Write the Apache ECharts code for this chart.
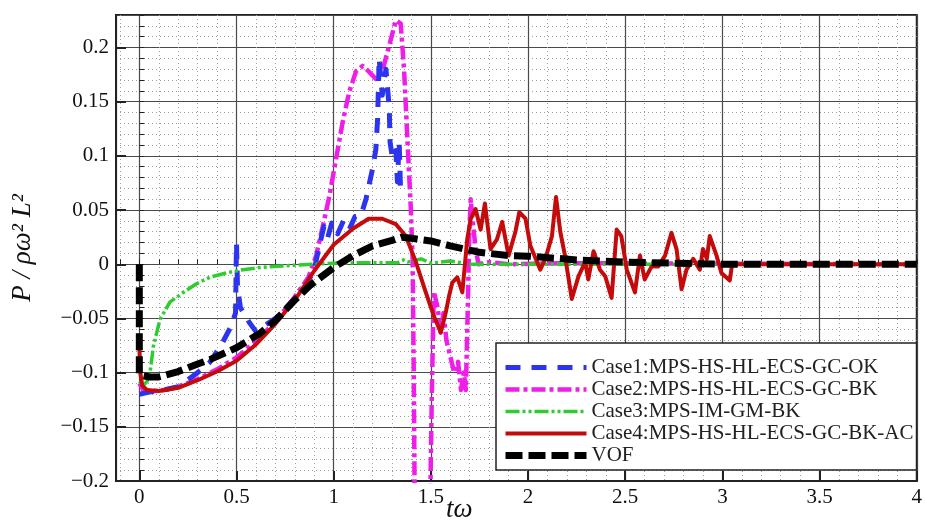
<!DOCTYPE html>
<html>
<head>
<meta charset="utf-8">
<script src="https://cdn.jsdelivr.net/npm/echarts@6/dist/echarts.min.js"></script>
<style>
html,body{margin:0;padding:0;background:#fff;}
#chart{width:925px;height:525px;}
</style>
</head>
<body>
<div id="chart"></div>
<script>
// ---- data (tω, P/ρω²L²) ----
const seriesNames = [
  'Case1:MPS-HS-HL-ECS-GC-OK',
  'Case2:MPS-HS-HL-ECS-GC-BK',
  'Case3:MPS-IM-GM-BK',
  'Case4:MPS-HS-HL-ECS-GC-BK-AC',
  'VOF'
];

const case1 = [
  [0, -0.12], [0.05, -0.118], [0.1, -0.117], [0.2, -0.113], [0.3, -0.1], [0.36, -0.091],
  [0.42, -0.075], [0.47, -0.058], [0.495, -0.045], [0.5, 0.02], [0.505, -0.02], [0.52, -0.04],
  [0.567, -0.054], [0.6, -0.062], [0.7, -0.05], [0.8, -0.032], [0.85, -0.022], [0.9, -0.005],
  [0.93, 0.02], [0.95, 0.035], [0.97, 0.025], [0.99, 0.038], [1.02, 0.028], [1.05, 0.04],
  [1.08, 0.032], [1.11, 0.044], [1.14, 0.045], [1.166, 0.06], [1.2, 0.088], [1.217, 0.106],
  [1.226, 0.134], [1.234, 0.19], [1.25, 0.156], [1.269, 0.18], [1.286, 0.144], [1.29, 0.113],
  [1.303, 0.097], [1.32, 0.105], [1.328, 0.076], [1.337, 0.113], [1.345, 0.063]
];

const case2 = [
  [0, -0.11], [0.02, -0.116], [0.1, -0.117], [0.2, -0.113], [0.3, -0.106], [0.4, -0.097],
  [0.5, -0.086], [0.6, -0.071], [0.7, -0.053], [0.8, -0.03], [0.87, -0.012], [0.91, 0.008],
  [0.944, 0.035], [0.978, 0.063], [1.012, 0.097], [1.046, 0.131], [1.08, 0.159], [1.115, 0.178],
  [1.149, 0.183], [1.18, 0.178], [1.217, 0.171], [1.25, 0.178], [1.286, 0.202], [1.32, 0.225],
  [1.345, 0.222], [1.362, 0.18], [1.38, 0.113], [1.397, 0.051], [1.406, 0.005], [1.412, -0.1],
  [1.42, -0.3], [1.49, -0.3], [1.505, -0.12], [1.515, -0.025], [1.535, -0.04], [1.55, -0.063],
  [1.565, -0.045], [1.58, -0.07], [1.6, -0.085], [1.62, -0.1], [1.64, -0.09], [1.655, -0.116],
  [1.67, -0.1], [1.68, -0.116], [1.69, -0.04], [1.698, 0.03], [1.705, 0.06], [1.715, 0.04],
  [1.73, 0.015], [1.745, 0.0], [1.8, 0.002], [1.9, 0.0], [2.2, 0.001], [4.0, 0.0]
];

const case3 = [
  [0, -0.108], [0.02, -0.112], [0.04, -0.108], [0.055, -0.1], [0.072, -0.076], [0.106, -0.051],
  [0.157, -0.035], [0.226, -0.026], [0.294, -0.018], [0.363, -0.012], [0.448, -0.008],
  [0.533, -0.005], [0.619, -0.003], [0.738, -0.0015], [0.9, 0.0], [1.0, 0.001], [1.2, 0.0015],
  [1.33, 0.0015], [1.36, 0.004], [1.38, 0.002], [1.45, 0.005], [1.5, 0.001], [1.6, 0.003],
  [1.7, 0.0], [2.0, 0.0], [4.0, 0.0]
];

const case4 = [
  [0, -0.075], [0.005, -0.1], [0.015, -0.112], [0.04, -0.116], [0.1, -0.117], [0.2, -0.114],
  [0.3, -0.107], [0.4, -0.099], [0.5, -0.089], [0.6, -0.074], [0.7, -0.055], [0.8, -0.033],
  [0.9, -0.006], [1.0, 0.018], [1.1, 0.033], [1.18, 0.042], [1.25, 0.042], [1.32, 0.037],
  [1.371, 0.026], [1.423, 0.002], [1.474, -0.026], [1.516, -0.048], [1.551, -0.063],
  [1.576, -0.045], [1.594, -0.029], [1.61, -0.017], [1.636, -0.012], [1.662, -0.026],
  [1.687, 0.023], [1.705, 0.042], [1.73, 0.051], [1.756, 0.032], [1.778, 0.056], [1.807, 0.014],
  [1.84, 0.023], [1.867, 0.039], [1.9, 0.008], [1.935, 0.03], [1.955, 0.048], [1.987, 0.042],
  [2.012, 0.017], [2.063, -0.005], [2.089, 0.005], [2.123, 0.026], [2.144, 0.062], [2.166, 0.03],
  [2.19, 0.008], [2.225, -0.032], [2.26, -0.011], [2.294, 0.002], [2.31, -0.014], [2.337, 0.012],
  [2.37, -0.005], [2.397, -0.011], [2.43, -0.031], [2.456, 0.032], [2.48, 0.026], [2.508, -0.005],
  [2.55, -0.026], [2.576, 0.008], [2.6, -0.014], [2.636, -0.002], [2.67, -0.002], [2.705, 0.008],
  [2.738, 0.029], [2.764, 0.014], [2.79, -0.023], [2.815, -0.005], [2.85, 0.005], [2.884, -0.005],
  [2.9, 0.014], [2.92, 0.005], [2.935, 0.026], [2.97, 0.008], [2.995, -0.008], [3.038, -0.015],
  [3.05, 0.0], [3.2, 0.0], [4.0, 0.0]
];

const vof = [
  [0, 0.0], [0, -0.102], [0.05, -0.104], [0.1, -0.104], [0.2, -0.099], [0.3, -0.092],
  [0.363, -0.088], [0.5, -0.077], [0.619, -0.064], [0.7, -0.052], [0.8, -0.033], [0.875, -0.02],
  [1.0, -0.003], [1.1, 0.008], [1.2, 0.017], [1.3, 0.022], [1.35, 0.025], [1.4, 0.024],
  [1.5, 0.0215], [1.6, 0.017], [1.75, 0.011], [1.9, 0.008], [2.0, 0.0075], [2.25, 0.004],
  [2.5, 0.002], [2.75, 0.001], [3.0, 0.0], [4.0, 0.0]
];

const xMin = -0.12, xMax = 4;
const yMin = -0.2, yMax = 0.23;

const FONT = '"Liberation Serif", "Times New Roman", serif';
const minus = v => String(v).replace('-', '\u2212');

const chart = echarts.init(document.getElementById('chart'), null, {renderer: 'canvas'});

function mk(name, data, color, width, dash, z) {
  return {
    name, type: 'line', data, xAxisIndex: 1, yAxisIndex: 1,
    showSymbol: false, symbol: 'none', smooth: false, z,
    lineStyle: {color, width, type: dash, cap: 'butt', join: 'round'},
    itemStyle: {color},
    emphasis: {disabled: true}
  };
}

const option = {
  animation: false,
  backgroundColor: '#fff',
  grid: {left: 116, right: 6, top: 15, bottom: 44, show: true, borderColor: '#222', borderWidth: 2, backgroundColor: 'transparent'},
  xAxis: [
    { // minor grid
      type: 'value', min: xMin, max: xMax, splitNumber: 41, position: 'bottom',
      axisLine: {show: false}, axisLabel: {show: false},
      axisTick: {show: true, inside: true, length: 5, lineStyle: {color: '#222', width: 1}},
      splitLine: {show: true, lineStyle: {color: '#a0a0a0', width: 1, type: [1, 3]}}
    },
    { // major
      type: 'value', min: xMin, max: xMax, splitNumber: 8, position: 'bottom',
      axisLine: {show: true, onZero: false, lineStyle: {color: '#222', width: 2}},
      axisTick: {show: true, inside: true, length: 10, lineStyle: {color: '#222', width: 2}},
      axisLabel: {showMinLabel: false, margin: 6, color: '#111', fontFamily: FONT, fontSize: 21, formatter: minus},
      splitLine: {show: true, lineStyle: {color: '#4a4a4a', width: 1.2}}
    }
  ],
  yAxis: [
    { // minor grid
      type: 'value', min: yMin, max: yMax, interval: 0.01, position: 'left',
      axisLine: {show: false}, axisLabel: {show: false},
      axisTick: {show: true, inside: true, length: 5, lineStyle: {color: '#222', width: 1}},
      splitLine: {show: true, lineStyle: {color: '#a0a0a0', width: 1, type: [1, 3]}}
    },
    { // major
      type: 'value', min: yMin, max: yMax, interval: 0.05, position: 'left',
      axisLine: {show: true, onZero: false, lineStyle: {color: '#222', width: 2}},
      axisTick: {show: true, inside: true, length: 10, lineStyle: {color: '#222', width: 2}},
      axisLabel: {showMaxLabel: false, margin: 7, color: '#111', fontFamily: FONT, fontSize: 21, formatter: minus},
      splitLine: {show: true, lineStyle: {color: '#4a4a4a', width: 1.2}},
      name: 'P / \u03c1\u03c9\u00b2 L\u00b2',
      nameLocation: 'middle', nameGap: 80, nameRotate: 90,
      nameTextStyle: {fontFamily: FONT, fontStyle: 'italic', fontSize: 27, color: '#111'}
    }
  ],
  legend: {
    show: true, orient: 'vertical', left: 496, top: 343,
    data: seriesNames,
    backgroundColor: '#fff', borderColor: '#222', borderWidth: 1.5,
    padding: [14, 3, 4, 6], itemGap: 1, itemWidth: 81, itemHeight: 16,
    textStyle: {fontFamily: FONT, fontSize: 21, color: '#222'},
    itemStyle: {opacity: 0},
    lineStyle: {width: 'inherit'},
    selectedMode: false
  },
  graphic: [{
    type: 'text', left: 446, top: 496,
    style: {text: 't\u03c9', font: 'italic 27px ' + FONT, fill: '#111'}
  }],
  series: [
    mk(seriesNames[1], case2, '#ee1ee8', 4.5, [14, 4, 4, 4], 3),
    mk(seriesNames[0], case1, '#2c34ee', 5, [15, 11], 4),
    mk(seriesNames[2], case3, '#2ecc2e', 3.5, [14, 3, 3, 3, 3, 3], 5),
    mk(seriesNames[3], case4, '#c40a0a', 4, 'solid', 6),
    mk(seriesNames[4], vof, '#000000', 7, [17, 6], 7)
  ]
};
chart.setOption(option);
</script>
</body>
</html>
